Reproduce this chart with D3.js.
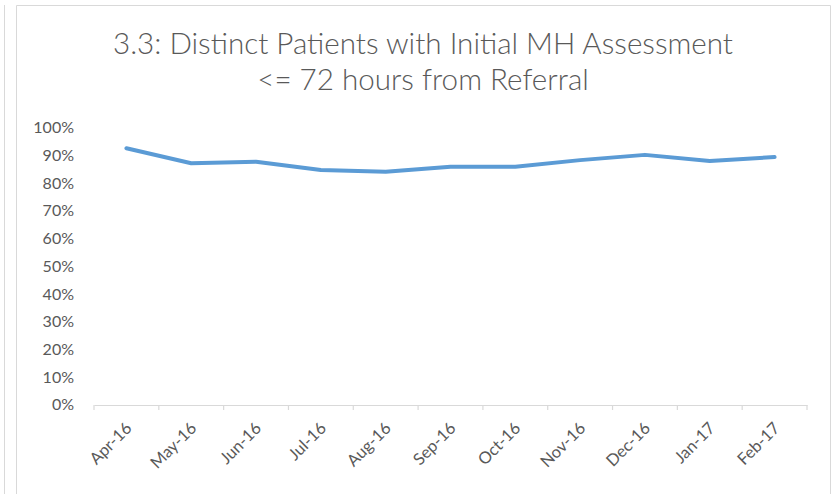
<!DOCTYPE html>
<html>
<head>
<meta charset="utf-8">
<script src="https://cdn.jsdelivr.net/npm/d3@7"></script>
<style>
  html, body { margin: 0; padding: 0; background: #ffffff; }
  svg { display: block; }
</style>
</head>
<body>
<svg id="chart" width="839" height="494"></svg>
<script>
const categories = ["Apr-16","May-16","Jun-16","Jul-16","Aug-16","Sep-16","Oct-16","Nov-16","Dec-16","Jan-17","Feb-17"];
const values = [0.927, 0.873, 0.878, 0.848, 0.842, 0.860, 0.860, 0.884, 0.903, 0.881, 0.895];
const yTicks = [0, 0.1, 0.2, 0.3, 0.4, 0.5, 0.6, 0.7, 0.8, 0.9, 1.0];
const titleLines = ["3.3: Distinct Patients with Initial MH Assessment", "<= 72 hours from Referral"];

const svg = d3.select("#chart");
const W = 839, H = 494;
const font = "Lato, 'Open Sans', sans-serif";
const textColor = "#595959";
const borderColor = "#d9d9d9";

// outer stray line and chart border
svg.append("line").attr("x1", 4.5).attr("x2", 4.5).attr("y1", 5).attr("y2", H)
  .attr("stroke", borderColor).attr("stroke-width", 1);
svg.append("path")
  .attr("d", `M16.5,${H} V5.5 H830.5 V${H}`)
  .attr("fill", "none").attr("stroke", borderColor).attr("stroke-width", 1);

const plot = { left: 94, right: 807, top: 128, bottom: 405 };

const x = d3.scaleBand().domain(categories).range([plot.left, plot.right]).padding(0);
const y = d3.scaleLinear().domain([0, 1]).range([plot.bottom, plot.top]);

// title
const title = svg.append("text")
  .attr("text-anchor", "middle")
  .attr("font-family", font)
  .attr("font-weight", 300)
  .attr("font-size", 29.6)
  .attr("fill", textColor);
titleLines.forEach((t, i) => {
  title.append("tspan").attr("x", 423).attr("y", 54 + i * 36).text(t);
});

// y axis labels (no axis line)
const yAxis = d3.axisLeft(y).tickValues(yTicks).tickFormat(d3.format(".0%")).tickSize(0).tickPadding(0);
const yg = svg.append("g").attr("transform", `translate(74,0)`).call(yAxis);
yg.select(".domain").remove();
yg.selectAll("text").attr("font-family", font).attr("font-size", 16).attr("fill", textColor).attr("dy", "0.3em");

// x axis
const xAxis = d3.axisBottom(x).tickSize(0).tickFormat(d => d);
const xg = svg.append("g").attr("transform", `translate(0,${plot.bottom})`).call(xAxis);
xg.select(".domain").attr("stroke", borderColor).attr("stroke-width", 1.2);
xg.selectAll(".tick line").remove();
// boundary ticks
const bounds = categories.map(c => x(c)).concat([x(categories[categories.length - 1]) + x.bandwidth()]);
xg.selectAll("line.bt").data(bounds).enter().append("line").attr("class", "bt")
  .attr("x1", d => d).attr("x2", d => d).attr("y1", 0).attr("y2", 5)
  .attr("stroke", borderColor).attr("stroke-width", 1.2);
xg.selectAll(".tick text")
  .attr("font-family", font).attr("font-size", 16.5).attr("fill", textColor)
  .attr("text-anchor", "end")
  .attr("transform", "translate(-2,16) rotate(-45)")
  .attr("dy", "0.71em").attr("y", 0);

// line
const line = d3.line().x((d, i) => x(categories[i]) + x.bandwidth() / 2).y(d => y(d));
svg.append("path").datum(values)
  .attr("d", line)
  .attr("fill", "none")
  .attr("stroke", "#5b9bd5")
  .attr("stroke-width", 4)
  .attr("stroke-linejoin", "round")
  .attr("stroke-linecap", "round");
</script>
</body>
</html>
